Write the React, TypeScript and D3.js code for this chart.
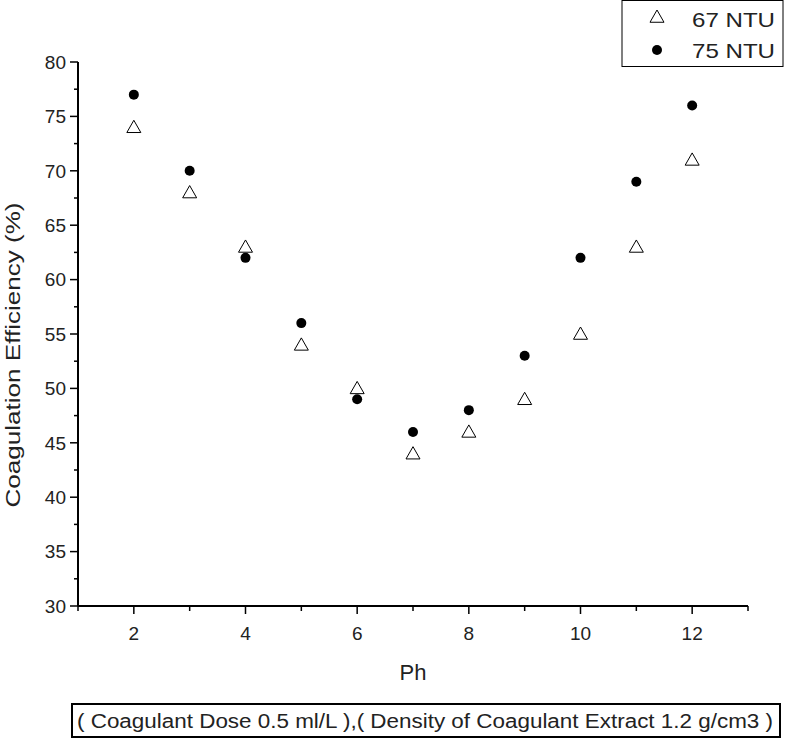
import React from "react";
import * as d3 from "d3";

const phValues = [2, 3, 4, 5, 6, 7, 8, 9, 10, 11, 12];
const ntu67 = [74, 68, 63, 54, 50, 44, 46, 49, 55, 63, 71];
const ntu75 = [77, 70, 62, 56, 49, 46, 48, 53, 62, 69, 76];
const yTicks = [30, 35, 40, 45, 50, 55, 60, 65, 70, 75, 80];
const xTicks = [2, 4, 6, 8, 10, 12];
const seriesNames = ["67 NTU", "75 NTU"];

export default function App() {
  const W = 787, H = 741;
  const x = d3.scaleLinear().domain([1, 13]).range([78, 748]);
  const y = d3.scaleLinear().domain([30, 80]).range([606, 62]);
  const font = "'Liberation Sans', Arial, sans-serif";
  const xMinor = d3.range(1, 14, 1).filter((v) => !xTicks.includes(v));
  const yMinor = d3.range(32.5, 80, 5);
  const tri = (cx: number, cy: number, s = 7) =>
    `M${cx},${cy - s} L${cx + s},${cy + s * 0.75} L${cx - s},${cy + s * 0.75} Z`;
  return (
    <svg width={W} height={H} style={{ position: "absolute", left: 0, top: 0 }} fontFamily={font}>
      <rect width={W} height={H} fill="#fff" />
      {/* axes */}
      <line x1={x(1)} x2={x(1)} y1={y(80)} y2={y(30)} stroke="#000" strokeWidth={2} />
      <line x1={x(1)} x2={x(13)} y1={y(30)} y2={y(30)} stroke="#000" strokeWidth={2} />
      {yTicks.map((t) => (
        <g key={"y" + t}>
          <line x1={x(1) - 8} x2={x(1)} y1={y(t)} y2={y(t)} stroke="#000" strokeWidth={1.5} />
          <text x={x(1) - 12} y={y(t)} dy="0.36em" textAnchor="end" fontSize={19} fill="#222">{t}</text>
        </g>
      ))}
      {yMinor.map((t) => (
        <line key={"ym" + t} x1={x(1) - 4} x2={x(1)} y1={y(t)} y2={y(t)} stroke="#000" strokeWidth={1.5} />
      ))}
      {xTicks.map((t) => (
        <g key={"x" + t}>
          <line x1={x(t)} x2={x(t)} y1={y(30)} y2={y(30) + 8} stroke="#000" strokeWidth={1.5} />
          <text x={x(t)} y={y(30) + 34} textAnchor="middle" fontSize={19} fill="#222">{t}</text>
        </g>
      ))}
      {xMinor.map((t) => (
        <line key={"xm" + t} x1={x(t)} x2={x(t)} y1={y(30)} y2={y(30) + 5} stroke="#000" strokeWidth={1.5} />
      ))}
      {/* labels */}
      <text x={x(7)} y={680} textAnchor="middle" fontSize={22} fill="#222">Ph</text>
      <text transform={`translate(20,${355}) rotate(-90)`} textAnchor="middle" fontSize={20} fill="#222"
        textLength={305} lengthAdjust="spacingAndGlyphs">
        Coagulation Efficiency (%)
      </text>
      {/* data */}
      {phValues.map((p, i) => (
        <path key={"t" + i} d={tri(x(p), y(ntu67[i]))} fill="#fff" stroke="#000" strokeWidth={1} />
      ))}
      {phValues.map((p, i) => (
        <circle key={"c" + i} cx={x(p)} cy={y(ntu75[i])} r={5} fill="#000" />
      ))}
      {/* legend */}
      <rect x={622} y={0.5} width={161} height={66} fill="#fff" stroke="#000" strokeWidth={1} />
      <path d={tri(657, 17)} fill="#fff" stroke="#000" strokeWidth={1} />
      <text x={692} y={19} dy="0.36em" fontSize={21} fill="#222" textLength={83} lengthAdjust="spacingAndGlyphs">{seriesNames[0]}</text>
      <circle cx={657} cy={50} r={5} fill="#000" />
      <text x={692} y={50} dy="0.36em" fontSize={21} fill="#222" textLength={83} lengthAdjust="spacingAndGlyphs">{seriesNames[1]}</text>
      {/* bottom note */}
      <rect x={72} y={704} width={708} height={33} fill="#fff" stroke="#000" strokeWidth={2} />
      <text x={425} y={721} dy="0.36em" textAnchor="middle" fontSize={20} fill="#222"
        textLength={696} lengthAdjust="spacingAndGlyphs">
        ( Coagulant Dose 0.5 ml/L ),( Density of Coagulant Extract 1.2 g/cm3 )
      </text>
    </svg>
  );
}
